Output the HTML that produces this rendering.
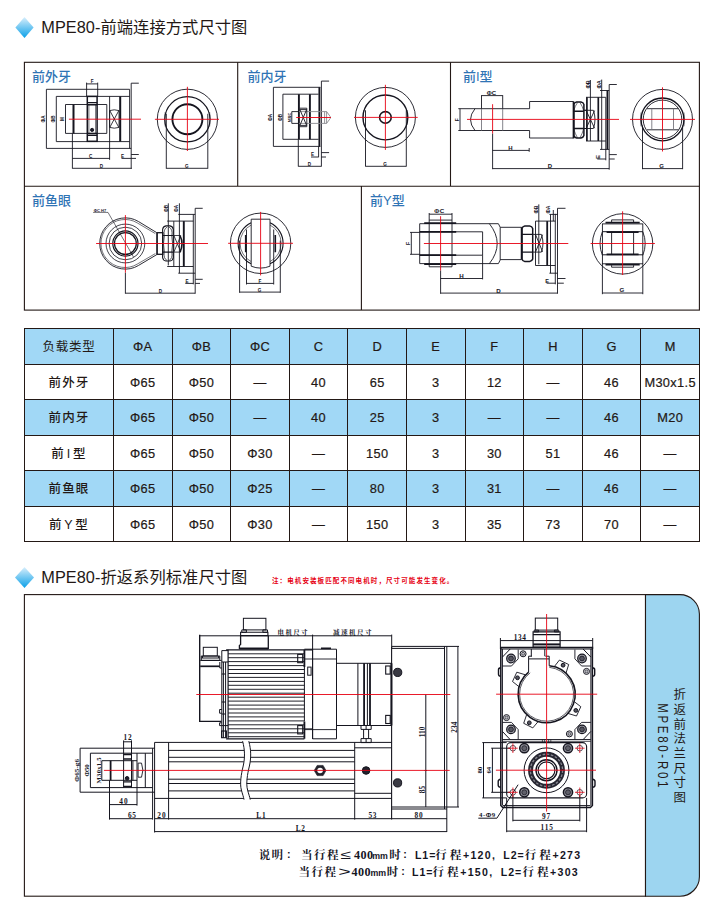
<!DOCTYPE html>
<html lang="zh-CN">
<head>
<meta charset="utf-8">
<title>MPE80 尺寸图</title>
<style>
html,body{margin:0;padding:0;background:#fff;}
body{width:724px;height:902px;position:relative;overflow:hidden;font-family:"Liberation Sans","Noto Sans CJK SC",sans-serif;color:#231815;}
.hd{position:absolute;left:41.3px;font-size:16.3px;line-height:20px;white-space:nowrap;color:#231815;letter-spacing:0.05px;}
.dia{position:absolute;left:15px;width:19px;height:21px;}
.note{position:absolute;left:272px;top:576px;font-size:6.5px;line-height:9px;color:#e60012;white-space:nowrap;font-weight:bold;letter-spacing:1.1px;}
table.t{position:absolute;left:24px;top:328px;border-collapse:collapse;table-layout:fixed;width:676px;font-size:12.8px;}
table.t td{border:1px solid #231815;height:35.5px;padding:2px 0 0 0;letter-spacing:0.35px;-webkit-text-stroke:0.2px #231815;text-align:center;vertical-align:middle;box-sizing:border-box;line-height:14px;}
table.t tr.b td{background:#a1d8f6;}
table.t td.l{letter-spacing:1.2px;font-weight:500;font-size:12.5px;-webkit-text-stroke:0;}
table.t td.s{word-spacing:-3px;}
svg.draw{position:absolute;left:0;top:0;width:724px;height:902px;font-family:"Liberation Sans","Noto Sans CJK SC",sans-serif;}
</style>
</head>
<body>
<!-- section 1 header -->
<svg class="dia" style="top:17px" viewBox="0 0 19 21"><defs><linearGradient id="g1" x1="0" y1="0" x2="0" y2="1"><stop offset="0" stop-color="#d9effc"/><stop offset="1" stop-color="#0aa0e8"/></linearGradient></defs><polygon points="9.5,0 18.6,10.5 9.5,21 0.4,10.5" fill="url(#g1)"/></svg>
<div class="hd" style="top:17px">MPE80-前端连接方式尺寸图</div>

<!-- table -->
<table class="t">
<colgroup><col style="width:89px"><col><col><col><col><col><col><col><col><col><col></colgroup>
<tr class="b"><td class="l" style="font-weight:normal;letter-spacing:0.8px">负载类型</td><td>ΦA</td><td>ΦB</td><td>ΦC</td><td>C</td><td>D</td><td>E</td><td>F</td><td>H</td><td>G</td><td>M</td></tr>
<tr><td class="l">前外牙</td><td>Φ65</td><td>Φ50</td><td>—</td><td>40</td><td>65</td><td>3</td><td>12</td><td>—</td><td>46</td><td>M30x1.5</td></tr>
<tr class="b"><td class="l">前内牙</td><td>Φ65</td><td>Φ50</td><td>—</td><td>40</td><td>25</td><td>3</td><td>—</td><td>—</td><td>46</td><td>M20</td></tr>
<tr><td class="l s">前 I 型</td><td>Φ65</td><td>Φ50</td><td>Φ30</td><td>—</td><td>150</td><td>3</td><td>30</td><td>51</td><td>46</td><td>—</td></tr>
<tr class="b"><td class="l">前鱼眼</td><td>Φ65</td><td>Φ50</td><td>Φ25</td><td>—</td><td>80</td><td>3</td><td>31</td><td>—</td><td>46</td><td>—</td></tr>
<tr><td class="l s">前 Y 型</td><td>Φ65</td><td>Φ50</td><td>Φ30</td><td>—</td><td>150</td><td>3</td><td>35</td><td>73</td><td>70</td><td>—</td></tr>
</table>

<!-- section 2 header -->
<svg class="dia" style="top:567px" viewBox="0 0 19 21"><polygon points="9.5,0 19,10.5 9.5,21 0,10.5" fill="url(#g1)"/></svg>
<div class="hd" style="top:567px">MPE80-折返系列标准尺寸图</div>
<div class="note">注：电机安装板匹配不同电机时，尺寸可能发生变化。</div>

<!-- drawings -->
<svg class="draw" viewBox="0 0 724 902" fill="none" stroke="#231815" stroke-width="1">
<!-- FRAMES -->
<g id="frames" stroke-width="1.1" stroke="#231815">
<rect x="24.4" y="62.3" width="675" height="247.8"/>
<path d="M24.4 186.2H699.4M237.7 62.3V186.2M450.5 62.3V186.2M361.4 186.2V310.1"/>
<rect x="24.4" y="594.6" width="621.1" height="301.6"/>
<path d="M645.5 594.6H679.9a19.5 19.5 0 0 1 19.5 19.5V876.7a19.5 19.5 0 0 1 -19.5 19.5H645.5Z" fill="#9dd5f0"/>
</g>
<!-- LABELS -->
<g id="labels" stroke="none" fill="#2f74b5" font-size="13" font-weight="500">
<text x="32" y="80.8">前外牙</text>
<text x="247.5" y="80.8">前内牙</text>
<text x="463" y="80.8">前I型</text>
<text x="32" y="204.6">前鱼眼</text>
<text x="370" y="204.6">前Y型</text>
</g>
<g id="tab" stroke="none" fill="#231815" font-size="12.5">
<text x="678.2" y="688.2" letter-spacing="2.2" style="writing-mode:vertical-rl">折返前法兰尺寸图</text>
<text transform="translate(658,703.2) rotate(90) scale(0.82,1)" letter-spacing="3.3" font-size="14">MPE80-R01</text>
</g>
<!-- DRAWINGS-TOP -->
<g id="top" stroke="#15151f" stroke-width="0.9" stroke-linecap="butt">
<!-- ===== D1 前外牙 side ===== -->
<g id="d1">
<path d="M46.4 89.3V148.4M46.4 89.3H129.6M46.4 148.4H131.2"/>
<path d="M56.3 96.4V141.6M56.3 96.4H129.6M56.3 141.6H129.6"/>
<path d="M65.5 104.5V133.4M65.5 104.5H106.8M65.5 133.4H106.8M106.8 104.5V133.4"/>
<path d="M72.4 133.4V168.6M109.6 96.4V159.8M129.6 89.3V148.4M131.2 83.2V168.6M131.2 83.2H138.8M131.2 154.5H138.8"/>
<path d="M73.5 104.5V133.4M120.2 96.4V141.6" stroke-width="2"/>
<path d="M86.6 82.6V96.4M97.7 82.6V96.4M86.6 83.9H97.7"/>
<rect x="87.3" y="96.4" width="9.8" height="44.9" stroke-width="1.5"/>
<path d="M87.3 102.6H97.1M87.3 104.8H97.1M87.3 133.4H97.1M87.3 135.3H97.1" stroke-width="1.4"/>
<path d="M88.9 104.8V133.4M95.6 104.8V133.4" stroke-width="0.6"/>
<circle cx="92.1" cy="129.9" r="1.6" fill="#1d1d2c"/>
<path d="M109.6 110.6Q114.3 109 119 110.6V127.4Q114.3 129 109.6 127.4ZM109.9 110.8L118.7 127.2M118.7 110.8L109.9 127.2" stroke-width="0.85"/>
<path d="M72.4 158.4H109.6M72.4 168.3H131.9M121.5 158.4H131.2M131.2 158.4H136"/>
</g>
<!-- D1 front -->
<g id="d1f">
<circle cx="187.4" cy="119.3" r="30.1"/>
<circle cx="187.4" cy="119.3" r="22.6" stroke-width="1.2"/>
<circle cx="187.4" cy="119.3" r="15" stroke-width="1.9"/>
<path d="M166.3 113.8V168.7M207.8 113.8V168.7M166.3 168.3H207.8"/>
<path d="M165.2 112Q164 119.3 165.2 126.6M209.6 112Q210.8 119.3 209.6 126.6" stroke-width="0.5"/>
</g>
<!-- ===== D2 前内牙 side ===== -->
<g id="d2">
<path d="M273.4 87.3V146.4M273.4 87.3H320.4M273.4 146.4H320.4"/>
<path d="M282.9 94.2V139.3M282.9 94.2H318.6M282.9 139.3H318.6"/>
<path d="M298.9 94.2V139.3M309.9 94.2V139.3M319.4 87.3V146.4" stroke-width="1.9"/>
<path d="M298.3 139.3V166.5M321.4 81.1V166.5M321.4 81.1H329.1M321.4 152.6H329.1M318.6 146.4V157.2"/>
<g stroke="#8a8a90"><path d="M299 111.6H326.6L330.2 116.5V118.5L326.6 123.4H299M324.6 111.6V123.4M326.6 111.6V123.4"/></g>
<path d="M291.8 111.6V123.4M291.8 111.6H299M291.8 123.4H299"/>
<path d="M299.6 108.2H306.8V126.7H299.6M300 109.8L306.5 125.2M306.5 109.8L300 125.2M299.6 109.6H306.8M299.6 125.4H306.8" stroke-width="0.9"/>
<path d="M298.3 166.3H321.4M311 157H318.6M321.4 157H326"/>
</g>
<g id="d2f">
<circle cx="385.4" cy="117.4" r="30"/>
<circle cx="385.4" cy="117.4" r="22.4" stroke-width="1.3"/>
<circle cx="385.4" cy="117.4" r="5.8" stroke-width="1.6"/>
<path d="M365.5 110.3V166.5M406.3 110.3V166.5M365.5 166.3H406.3"/>
<path d="M363.6 110Q362.4 117.4 363.6 124.8M407.2 110Q408.4 117.4 407.2 124.8" stroke-width="0.5"/>
</g>
<!-- ===== D3 前I型 ===== -->
<g id="d3">
<path d="M460 108.7V130.5M458.3 108.7H529.6V101.5H573.5M458.3 130.5H529.6V138H573.5"/>
<path d="M475 108.7Q466 119.6 475 130.5"/>
<path d="M481.5 108.7V130.5M502.7 108.7V130.5" stroke="#77777f"/>
<path d="M481.5 95.2V108.7M502.7 95.2V108.7M481.5 95.6H502.7"/>
<path d="M492.6 133.5V169.2M492.6 150.4H529.2M529.2 148V151.8M492.6 168.6H609.2"/>
<!-- hex nut -->
<path d="M573.5 101.4V138.4" stroke-width="1.7"/>
<path d="M573.9 104.4Q574.4 102.3 576.6 102H581Q583.3 102.3 583.9 104.4V135.5Q583.3 137.6 581 137.9H576.6Q574.4 137.6 573.9 135.5Z" stroke-width="1.5"/>
<path d="M573.5 111.3H583.9M573.5 128.5H583.9" stroke-width="1.4"/>
<path d="M573.5 111.1Q575 106 577.5 102.6M583.8 111.1Q582.4 106 580 102.6M573.5 128.3Q575 133.5 577.5 137.9M583.8 128.3Q582.4 133.5 580 137.9" stroke-width="0.6"/>
<path d="M583.9 110.3H586M583.9 128.5H586"/>
<path d="M586 97.3H605.8M586 141H605.8M605.8 97.3V160.3M590.4 80V141"/>
<path d="M586.9 97.3V141M598.3 97.3V141" stroke-width="1.7"/>
<path d="M584.6 110.3H593.4Q596.6 119.4 593.4 128.5H584.6M586.2 110.6L594.6 128.2M594.6 110.6L586.2 128.2" stroke-width="0.9"/>
<path d="M601.7 79.6V149.4M600 90.5H609.2M600 149.4H609.2"/>
<path d="M607.4 90.5V149.4" stroke-width="1.8"/>
<path d="M609.2 84.5V169.7M609.2 84.5H616.8M609.2 154.6H616.8M597.3 159H605.8M609.2 159H614.7"/>
</g>
<g id="d3f">
<circle cx="662.5" cy="119.4" r="30"/>
<circle cx="662.5" cy="119.4" r="21.4" stroke-width="1.3"/>
<circle cx="662.5" cy="119.4" r="19.3"/>
<path d="M647 108.7H678.5M647 129.8H678.5"/>
<path d="M651.8 108.7V129.8M673.5 108.7V129.8" stroke="#77777f"/>
<path d="M642.5 125.5V169.2M682.6 125.5V169.2M642.5 168.6H682.6"/>
<path d="M641 112.5Q640 119.4 641 126.3M684 112.5Q685 119.4 684 126.3" stroke-width="0.5"/>
</g>
<!-- ===== D4 前鱼眼 ===== -->
<g id="d4">
<!-- eye head outline: circle + taper to shank -->
<path d="M138.6 221.6A25.6 25.6 0 1 0 138.6 265.4L156.8 254.6V232.7Z"/>
<path d="M137.6 223.1A24 24 0 1 0 137.6 263.9L155.3 253.6" stroke-width="0.6"/>
<path d="M137.6 223.1L155.3 233.6" stroke-width="0.6"/>
<circle cx="125.4" cy="243.5" r="19.4" stroke-width="0.8"/>
<circle cx="125.4" cy="243.5" r="16.3" stroke-width="0.8"/>
<circle cx="125.4" cy="243.5" r="12.6" stroke-width="1.2"/>
<circle cx="125.4" cy="243.5" r="10.9" stroke-width="1.2"/>
<rect x="157.2" y="232.7" width="5.6" height="21.6" stroke-width="1.3"/>
<!-- nut -->
<path d="M162.6 229.5Q163 226.4 166 225.9H170Q172.9 226.4 173.3 229.5V257.5Q172.9 260.6 170 261H166Q163 260.6 162.6 257.5Z" stroke-width="1.1"/>
<path d="M162.8 235.5H173.3M162.8 252.1H173.3" stroke-width="1.1"/>
<path d="M164.4 235.5Q162.6 243.8 164.4 252.1M171.7 235.5Q173.5 243.8 171.7 252.1M164.2 235.3Q163.4 229 167 227.2M171.9 235.3Q172.7 229 169.1 227.2M164.2 252.3Q163.4 258.6 167 260.4M171.9 252.3Q172.7 258.6 169.1 260.4" stroke-width="0.7"/>
<path d="M173.8 221.1V266.5"/>
<path d="M173.8 235.5H180.6M173.8 252.1H180.6M174 235.8L180.8 251.8M180.8 235.8L174 251.8" stroke-width="0.8"/>
<path d="M180 235.5Q184 243.8 180 252.1" stroke-width="1.6"/>
<path d="M168.3 203.3V265.4M167.2 221.1H193.3M167.2 266.5H193.3"/>
<path d="M183.8 221.1V266.5" stroke-width="1.9"/>
<path d="M179.4 203.3V273.2M178.3 214.4H195.2M178.3 273.2H195.2M193.3 214.4V284.3"/>
<path d="M195.2 208.3V293.7M195.2 208.3H202.7M195.2 279.3H202.7M185.3 283.4H193.3M195.2 283.4H200"/>
<path d="M125.4 272.6V293.7M125.4 293.2H195.2"/>
<path d="M93.1 212.4H108L133.5 257" stroke-width="0.6"/>
</g>
<g id="d4f">
<circle cx="260.6" cy="243.3" r="30.2"/>
<path d="M251.2 222.8A22.6 22.6 0 0 0 251.2 263.8M270 222.8A22.6 22.6 0 0 1 270 263.8" stroke-width="1.1"/>
<path d="M251.2 225A20.6 20.6 0 0 0 251.2 261.6M270 225A20.6 20.6 0 0 1 270 261.6" stroke-width="0.6"/>
<path d="M251.2 219.2H270V266.2Q260.6 270 251.2 266.2Z" fill="#fff"/>
<path d="M245.7 235V252.3M275.3 235V252.3" stroke-width="1.6"/>
<path d="M246.5 229.5V284.5M273.7 229.5V284.5M246.5 283.4H273.7"/>
<path d="M239.6 240.6V292.8M280.3 240.6V292.8M239.6 292.1H280.3"/>
</g>
<!-- ===== D5 前Y型 ===== -->
<g id="d5">
<path d="M411.3 232.4V254.3M410 232.4H419.7M410 254.3H419.7"/>
<path d="M419.7 223.7H498.4L500.2 227.3V260L498.4 263.6H419.7Z"/>
<path d="M419.7 231.8H482.6V255.2H419.7"/>
<path d="M489.4 223.7Q505 243.6 489.4 263.6"/>
<path d="M424.2 223.2H456.2M424.2 264.1H456.2M419.7 231.8H456.2M419.7 255.2H456.2" stroke-width="1.8"/>
<path d="M429.2 213V266.8M452 213V266.8M429.2 220.1H452M429.2 266.8H452M429.2 214.2H452"/>
<path d="M500.2 227.3H521.6M500.2 259.6H521.6"/>
<!-- nut -->
<path d="M521.6 227.2V259.4" stroke-width="1.7"/>
<path d="M522 228.6Q522.6 226.4 524.8 226.1H529.6Q532 226.4 532.7 228.6V259.1Q532 261.3 529.6 261.6H524.8Q522.6 261.3 522 259.1Z" stroke-width="1.5"/>
<path d="M521.6 234.4H532.7M521.6 252.1H532.7" stroke-width="1.4"/>
<path d="M532.7 234.4H533.9M532.7 252.1H533.9"/>
<path d="M535.5 221.1H555.3M535.5 265.5H555.3M535.5 221.1V265.5M555.3 213.9V284.3M538.8 204.4V264.3"/>
<path d="M547.2 221.1V265.5" stroke-width="1.8"/>
<path d="M533.9 234.4H541.4Q544.6 243.3 541.4 252.1H533.9M535.6 234.7L542.6 251.8M542.6 234.7L535.6 251.8" stroke-width="0.9"/>
<path d="M550.5 214.4V273.2M549.4 214.4H557.5M549.4 273.2H557.5M553.3 210V221.1"/>
<path d="M557.5 208.3V293.7M557.5 208.3H565.5M557.5 278.5H565.5M546.6 283.2H555.3M557.5 283.2H563.8"/>
<path d="M440.6 270.4V293.8M482.6 255.2V279.4M440.6 278.5H482.6M440.6 293.1H557.5"/>
</g>
<g id="d5f">
<circle cx="622.6" cy="243.9" r="30.2"/>
<rect x="602.4" y="223.9" width="40.4" height="39.9"/>
<path d="M602.4 231.7H642.8M602.4 254.8H642.8" stroke-width="1"/>
<path d="M606.6 232.1H638.6M606.6 254.4H638.6" stroke-width="1.9"/>
<path d="M605.5 222.6H639.7M605.5 264.7H639.7" stroke-width="1.7"/>
<path d="M611.6 219.9H633.6M611.6 267.2H633.6M611.6 219.9V222M633.6 219.9V222M611.6 265.2V267.2M633.6 265.2V267.2"/>
<path d="M611.6 231.7V254.8M633.6 231.7V254.8"/>
<path d="M602.4 231.7Q597.6 243.5 602.4 255.3M642.8 231.7Q647.6 243.5 642.8 255.3" stroke-width="0.9"/>
<path d="M602.4 263.8V294.2M642.8 263.8V294.2M602.4 293H642.8"/>
</g>
</g>
<!-- red centre lines top -->
<g id="redtop" stroke="#e60012" stroke-width="0.9">
<path d="M68.9 119.2H141M154.9 119.3H219M187.4 86.8V151"/>
<path d="M296.2 117.5H331M354 117.4H417.7M385.4 84.8V149.9"/>
<path d="M467 119.4H619M492.6 104.2V133.5M630 119.4H695M662.5 87.3V151.5"/>
<path d="M96.1 243.5H208M125.4 215.1V272.6M228.1 243.3H293M260.6 211.9V275.4"/>
<path d="M423.9 243.5H568.3M440.6 216.2V270.4M590.6 243.5H654.9M622.6 211.3V275"/>
</g>
<!-- tiny labels top -->
<g id="lbltop" stroke="none" fill="#15151f" font-size="4.6" font-weight="bold" text-anchor="middle">
<text x="92.1" y="83.2">F</text><text x="90.6" y="157.6">C</text><text x="101.5" y="167.6">D</text><text x="122.5" y="157.8">E</text><text x="186.8" y="167.5">G</text>
<text transform="translate(45,119) rotate(-90)">ΦA</text><text transform="translate(55,119) rotate(-90)">ΦB</text><text transform="translate(64.2,119) rotate(-90)">M</text>
<text transform="translate(272,117.5) rotate(-90)">ΦA</text><text transform="translate(281.6,117.5) rotate(-90)">ΦB</text><text transform="translate(290.8,117.5) rotate(-90)" font-size="3.8">M深C</text>
<text x="312.5" y="156.4">E</text><text x="309.4" y="165.6">D</text><text x="385" y="165.6">G</text>
<g font-size="6">
<text x="491.5" y="95">ΦC</text><text transform="translate(459,119.6) rotate(-90)" font-size="5">F</text><text x="510.5" y="149.8">H</text><text x="550" y="168.2">D</text>
<text transform="translate(589.6,84.4) rotate(-90)" font-size="5.4">ΦB</text><text transform="translate(601,84.4) rotate(-90)" font-size="5.4">ΦA</text><text transform="translate(600,157) rotate(-90)">E</text><text x="661.5" y="168">G</text>
</g>
<text x="100" y="211.6" font-size="4">ΦC H7</text>
<text transform="translate(167.6,208.4) rotate(-90)">ΦB</text><text transform="translate(178.2,208.4) rotate(-90)">ΦA</text>
<text x="187" y="282.8">E</text><text x="160.4" y="292.5">D</text><text x="259.9" y="282.8">F</text><text x="259.5" y="291.7">G</text>
<g font-size="6.2">
<text x="439.5" y="213.4" letter-spacing="0.5">ΦC</text><text transform="translate(410,243.5) rotate(-90)" font-size="5.2">F</text><text x="461.6" y="277.9">H</text><text x="498.4" y="292.7">D</text>
<text transform="translate(538.2,209.4) rotate(-90)" font-size="5.2">ΦB</text><text transform="translate(549.6,209.4) rotate(-90)" font-size="5.2">ΦA</text><text x="547.2" y="283.4" font-size="5.6">E</text><text x="622" y="292.3">G</text>
</g>
</g>
<!-- /DRAWINGS-TOP -->
<!-- DRAWINGS-BOTTOM -->
<g id="bot" stroke="#15151f" stroke-width="1">
<!-- ===== motor ===== -->
<g id="motor">
<path d="M199.1 635.8H391.7M312.6 634.6V739M391.7 634.6V648"/>
<path d="M199.7 634.8V721.4H221.5" stroke-width="1.4"/>
<!-- big connector -->
<rect x="243.4" y="618.3" width="22.5" height="11.6"/>
<path d="M241.8 629.9H246.4V632.3H241.8ZM262.9 629.9H267.5V632.3H262.9Z"/>
<path d="M240.6 632.3H267.9V635.6H240.6Z" stroke-width="1.1"/>
<path d="M240.6 635.6V644.5L239.4 645.5V648.4H268.3V635.6" stroke-width="1.3"/>
<path d="M239.4 648.6H268.3" stroke-width="1.8"/>
<!-- encoder connector -->
<rect x="203.3" y="647.3" width="14" height="8.7"/>
<path d="M201.3 656H219.8V660.4H201.3ZM201.3 658H219.8M202.5 656V658M218.6 656V658"/>
<path d="M200.2 666.3H219.8" stroke-width="1.7"/>
<path d="M200.2 660.4H221.5"/>
<!-- end bell -->
<path d="M221.8 650.6H228.1M221.8 650.6V737.8M223.4 662V737.8M225.6 662V737.8M221.8 662H228.1M219.8 662V668H221.8M221.8 674H225.6"/>
<path d="M219.6 709.5H221.8M219.6 713.2H221.8M219.6 709.5V713.2M219.6 722.8H221.8M219.6 725.6H221.8M219.6 722.8V725.6M221.8 702H225.6M221.8 714H225.6M221.8 725.6H228.1"/>
<rect x="221.6" y="731" width="4.8" height="6.7" stroke-width="1.1"/>
<!-- body + fins -->
<path d="M228.1 649.8V738.8" stroke-width="1.2"/>
<path d="M226.1 649.8H312.6M226.1 738.8H304.4" stroke-width="1.3"/>
<path d="M228.1 653.8H304.4M228.1 657.7H304.4M228.1 661.6H304.4M228.1 665.6H304.4M228.1 669.5H304.4M228.1 673.5H304.4M228.1 677.4H304.4M228.1 681.4H304.4M228.1 685.3H304.4M228.1 689.3H304.4M228.1 693.2H304.4M228.1 697.2H304.4M228.1 701.1H304.4M228.1 705.1H304.4M228.1 709.0H304.4M228.1 713.0H304.4M228.1 716.9H304.4M228.1 720.9H304.4M228.1 724.8H304.4M228.1 728.8H304.4M228.1 732.8H304.4M228.1 736.7H304.4" stroke-width="0.95"/>
<path d="M304.4 649.8V667M304.4 721.4V738.8" stroke-width="1.8"/>
<path d="M304.4 667V721.4" stroke-width="1"/>
<rect x="297.7" y="654.4" width="5" height="8.3" stroke-width="1.1"/>
<rect x="297.7" y="725.6" width="5" height="8.3" stroke-width="1.1"/>
<path d="M304.4 728.9H312.6"/>
</g>
<!-- ===== reducer ===== -->
<g id="reducer">
<path d="M304.4 649.2H336.5V738.8H312.6M312.6 649.2V738.8"/>
<path d="M321 648.3H331" stroke-width="1.6"/>
<rect x="307.7" y="667.1" width="3.4" height="8.1" stroke-width="1"/>
<path d="M336.5 663.3H391.7M336.5 725.5H391.7M357.9 663.3V725.5M367.4 663.3V725.5"/>
<path d="M364.1 663.3V725.5M370 663.3V725.5" stroke-width="1.8"/>
<rect x="385.7" y="666" width="4.5" height="8.1" stroke-width="1.1"/>
<rect x="385.7" y="715.4" width="4.5" height="8.1" stroke-width="1.1"/>
<path d="M361 725.5H371.2V729.4H361ZM363.6 729.4V738.6M368.6 729.4V738.6M361 738.6H371.2V742.6H361ZM366.1 725.5V729.4M366.1 738.6V742.6"/>
<path d="M304.4 659H336.5M304.4 729.6H336.5" stroke-width="0.9"/>
</g>
<!-- ===== mount plate side ===== -->
<g id="plate">
<path d="M391.6 647V819.6" stroke-width="1.1"/>
<path d="M391.4 663.3V725.5" stroke-width="2"/>
<path d="M391.6 646.4H459M391.6 648.4H444.5M444.5 646.4V809M446.8 646.4V832M391.6 807H459M391.6 809H446.8"/>
<circle cx="397.7" cy="672.4" r="4.1" fill="#3a3a44" stroke-width="1"/>
<circle cx="397.6" cy="782.9" r="4.1" fill="#3a3a44" stroke-width="1"/>
<path d="M425.8 694.5V807M424.6 770.5H427M457.9 646.4V807"/>
</g>
<!-- ===== actuator body ===== -->
<g id="act">
<path d="M154.6 742.4H242.8M249.2 742.4H391.6M154.6 798.4H243.8M250 798.4H391.6"/>
<path d="M154.6 742.4V832.5M168.6 742.4V819.6M354.7 742.4V819.6"/>
<path d="M168.6 750.4H244.4M168.6 757.3H244.4M168.6 761.8H243.8M168.6 779.2H240.6M168.6 783.5H240.4M168.6 790.9H241.6"/>
<path d="M250.6 750.4H354.7M250.6 757.3H354.7M250 761.8H354.7M246.8 779.2H354.7M246.6 783.5H354.7M247.8 790.9H354.7"/>
<path d="M354.7 747.8H391.6M354.7 793.3H391.6"/>
<path d="M242.6 741.2C245 750 245 758 243.2 766C241.2 774 239.6 784 241.4 790C242.4 794 243.6 797 244 799.6M248.8 741.2C251.2 750 251.2 758 249.4 766C247.4 774 245.8 784 247.6 790C248.6 794 249.8 797 250.2 799.6" stroke-width="1"/>
<polygon points="326.0,770.5 323.1,775.6 317.2,775.6 314.2,770.5 317.2,765.4 323.1,765.4" fill="#22222d" stroke-width="0.6"/>
<circle cx="320.1" cy="770.5" r="2.8" fill="#fff" stroke="none"/>
<circle cx="366.1" cy="770.5" r="3.8" fill="#22222d"/>
</g>
<!-- ===== rod end ===== -->
<g id="rod">
<path d="M80.1 748.2V792.2M80.1 748.2H154.6M80.1 792.2H154.6"/>
<path d="M90.4 753.2V787.6M90.4 753.2H152.6M90.4 787.6H152.6"/>
<path d="M101.8 760.7V780.3M101.8 760.7H137M101.8 780.3H137"/>
<path d="M110.6 760.7V780.3" stroke-width="1.8"/>
<path d="M109.5 780.3V819.6M137 753.2V805.6M132.9 760.7V780.3M145.3 753.2V787.6M152.6 748.2V819.6"/>
<path d="M123.6 740.4V787.6M131.5 740.4V787.6M123.6 741.8H131.5"/>
<path d="M123.6 754.5H131.5M123.6 759H131.5M123.6 781.8H131.5M123.6 786.3H131.5" stroke-width="1.3"/>
<circle cx="127.1" cy="778.3" r="1.8" fill="#1d1d2c"/>
<path d="M138.1 763.1H141.5Q144.3 770.2 141.5 777.2H138.1Z" stroke-width="0.9"/>
<path d="M109.5 804.6H137M109.5 818.7H152.6M154.6 818.7H354.7M354.7 818.7H391.6M391.6 818.7H447M154.6 831.6H447"/>
</g>
<!-- ===== front view ===== -->
<g id="front">
<path d="M500.4 640.6H592.7M500.4 638V649M592.7 638V649"/>
<!-- plate -->
<path d="M500.8 647.6H592.4V805.4L590.4 807.5H502.8L500.8 805.4Z" stroke-width="1.5"/>
<path d="M502.4 649V805.2M590.9 649V805.2M500.8 649H592.4M502.6 805.6H590.6"/>
<!-- connector -->
<rect x="535.3" y="618.1" width="22.4" height="12"/>
<path d="M534.2 630.1H538.6V631.9H534.2ZM554.4 630.1H558.8V631.9H554.4Z"/>
<path d="M533.1 631.9H560.1V647.2H533.1ZM533.1 634.6H560.1" stroke-width="1.2"/>
<path d="M533.1 644.4H560.1" stroke-width="2"/>
<path d="M531.3 649V656.2M544.8 649V656.2M528.6 656.2H532M545.4 656.2H549.2M528.6 656.2V658.9M549.2 656.2V658.9M528.6 658.9H549.2"/>
<!-- motor flange -->
<path d="M510.2 649L502.4 657.1M583.1 649L590.9 657.1M502.4 731.4L510.2 739.6M590.9 731.4L583.1 739.6M502.4 739.6H590.9"/>
<path d="M518.2 649.6V658.8L511.5 666H502.4M574.9 649.6V658.8L581.6 666H590.9M502.4 722.4H511.5L518.2 729.6V739.4M590.9 722.4H581.6L574.9 729.6V739.4" stroke-width="0.9"/>
<g stroke-width="1.2" fill="#9a9aa2">
<circle cx="511" cy="658.5" r="4.3"/><circle cx="582" cy="658.5" r="4.3"/><circle cx="511" cy="729.4" r="4.3"/><circle cx="582" cy="729.4" r="4.3"/>
</g>
<g stroke-width="0.8" fill="#55555f">
<circle cx="511" cy="658.5" r="2.4"/><circle cx="582" cy="658.5" r="2.4"/><circle cx="511" cy="729.4" r="2.4"/><circle cx="582" cy="729.4" r="2.4"/>
</g>
<g stroke-width="1" fill="#e4e4e8">
<circle cx="523.1" cy="653.8" r="3"/><circle cx="586.5" cy="671.4" r="3"/><circle cx="506.5" cy="717.6" r="3"/><circle cx="569.4" cy="733.9" r="3"/>
</g>
<g stroke-width="0.6" fill="#b8b8c0">
<circle cx="523.1" cy="653.8" r="1.5"/><circle cx="586.5" cy="671.4" r="1.5"/><circle cx="506.5" cy="717.6" r="1.5"/><circle cx="569.4" cy="733.9" r="1.5"/>
</g>
<!-- housing with lugs -->
<path d="M528.6 658.9V672.1M549.2 658.9V665.8" stroke-width="1"/>
<path d="M554.3 666.6L559.4 660.1L568.7 664.5L566.0 673.1M518.9 686.6L512.5 681.5L516.8 672.2L525.4 674.8M574.3 701.7L580.8 706.7L576.5 716.0L567.9 713.4M538.1 721.6L532.8 727.9L523.7 723.3L526.6 714.8" stroke-width="0.9" fill="#fff"/>
<circle cx="563.1" cy="665.2" r="1.9" fill="#55555f"/><circle cx="517.5" cy="677.8" r="1.9" fill="#55555f"/><circle cx="575.8" cy="710.4" r="1.9" fill="#55555f"/><circle cx="529.3" cy="722.8" r="1.9" fill="#55555f"/>
<path d="M528.6 672.1A28.5 28.5 0 1 0 549.3 665.8" stroke-width="1.6"/>
<path d="M530.2 672.75A27 27 0 1 0 549.3 667.34" stroke-width="0.7"/>
<!-- side bumps -->
<path d="M500.8 667.8Q498.4 668 498.5 670V674Q498.4 676 500.8 676.2M592.4 667.8Q594.8 668 594.7 670V674Q594.8 676 592.4 676.2M500.8 779.3Q498.2 779.6 498.2 781.4V785.2Q498.2 787 500.8 787.2M592.4 779.3Q595 779.6 595 781.4V785.2Q595 787 592.4 787.2" stroke-width="1.4"/>
<!-- between -->
<path d="M502.4 741.4H590.9M542.4 739.6V742M544.6 739.6V742M548.6 739.6V742M550.8 739.6V742" stroke-width="0.7"/>
<!-- flange 115 -->
<rect x="506.7" y="742.6" width="79.9" height="55.3" rx="4" ry="4" stroke-width="1.1"/>
<g stroke-width="0.7"><circle cx="512.9" cy="748.2" r="2.8"/><circle cx="579.8" cy="748.2" r="2.8"/><circle cx="512.9" cy="792.3" r="2.8"/><circle cx="579.8" cy="792.3" r="2.8"/></g>
<g stroke-width="1.5" fill="#8d8d96"><circle cx="524.3" cy="748.2" r="4.6"/><circle cx="568" cy="748.2" r="4.6"/><circle cx="524.3" cy="792.3" r="4.6"/><circle cx="568" cy="792.3" r="4.6"/></g>
<g stroke-width="0.7" fill="#60606a"><circle cx="524.3" cy="748.2" r="2.5"/><circle cx="568" cy="748.2" r="2.5"/><circle cx="524.3" cy="792.3" r="2.5"/><circle cx="568" cy="792.3" r="2.5"/></g>
<circle cx="546.5" cy="770.3" r="22.4" stroke-width="1"/>
<circle cx="546.5" cy="770.3" r="16" stroke-width="4.9" stroke="#262631"/>
<circle cx="546.5" cy="770.3" r="16.1" stroke-width="1.3" stroke="#85858f" stroke-dasharray="2.6 1.6"/>
<circle cx="546.5" cy="770.3" r="10.5" stroke-width="1.4"/>
<circle cx="546.5" cy="770.3" r="8.4" stroke-width="1.1"/>
<!-- dims -->
<path d="M483.5 742.6V797.9M482.3 742.6H506.7M482.3 797.9H506.7M492.4 748.2V792.3M491.2 748.2H510M491.2 792.3H510"/>
<path d="M512.9 795.3V821.4M579.8 795.3V821.4M512.9 820.3H579.8M506.7 797.9V832.2M586.6 797.9V832.2M506.7 831.1H586.6"/>
<path d="M478.3 818.2H496.9L518.1 784.7"/>
</g>
</g>
<!-- red centre lines bottom -->
<g id="redbot" stroke="#e60012" stroke-width="0.9">
<path d="M196.3 694.5H450.3M103.9 770.4H449.7"/>
<path d="M546.6 614V811.6M496.1 694.2H597.2M495.9 770.2H596"/>
<path d="M512.9 743.4V753M508.1 748.2H517.7M579.8 743.4V753M575 748.2H584.6M512.9 787.5V797.1M508.1 792.3H517.7M579.8 787.5V797.1M575 792.3H584.6" stroke-width="0.8"/>
</g>
<!-- labels bottom -->
<g id="lblbot" stroke="none" fill="#15151f" font-size="7.3" font-weight="bold" text-anchor="middle" style="font-family:'Liberation Serif','Noto Serif CJK SC',serif">
<text x="293.2" y="635" font-size="6.6" letter-spacing="1.2">电机尺寸</text>
<text x="353" y="634.6" font-size="6.6" letter-spacing="1.4">减速机尺寸</text>
<text x="127.9" y="740.4" letter-spacing="0.8">12</text>
<text x="124" y="804" letter-spacing="1">40</text><text x="132.2" y="817.9" letter-spacing="0.6">65</text><text x="161.9" y="817.9" letter-spacing="1">20</text>
<text x="261.4" y="817.6" letter-spacing="0.8">L1</text><text x="300.7" y="830.6" letter-spacing="0.8">L2</text>
<text x="372.8" y="817.7" letter-spacing="0.6">53</text><text x="418.9" y="817.7" letter-spacing="0.8">80</text>
<text transform="translate(78.6,770.4) rotate(-90)" font-size="7" textLength="22.8">Φ65-g6</text>
<text transform="translate(89.2,770.4) rotate(-90)" font-size="7" textLength="12.4">Φ50</text>
<text transform="translate(100.6,770.4) rotate(-90)" font-size="6.6" textLength="26">M30x1.5</text>
<text transform="translate(424.7,732) rotate(-90)">110</text>
<text transform="translate(424.7,789.6) rotate(-90)">85</text>
<text transform="translate(457.2,727.2) rotate(-90)">234</text>
<text x="520.2" y="639.6" letter-spacing="0.6">134</text>
<text transform="translate(482.4,770.2) rotate(-90)" font-size="6.8">80</text>
<text transform="translate(491.4,770.2) rotate(-90)" font-size="6.8">64</text>
<text x="546.6" y="819.4" letter-spacing="1">97</text><text x="547.2" y="830.2" letter-spacing="1">115</text>
<text x="487.4" y="817.3" font-size="6.8" letter-spacing="0.5">4-Φ9</text>
</g>
<g id="notes" stroke="none" fill="#15151f" font-size="10.6" font-weight="bold">
<style>#notes .k{font-family:"Liberation Serif","Noto Serif CJK SC",serif;font-size:11.5px;}</style>
<text x="258.7" y="858.7" class="k" letter-spacing="1.4">说明</text>
<text x="287" y="858.1">:</text>
<text x="301" y="858.7" class="k" letter-spacing="1.5">当行程</text>
<text transform="translate(340.8,859.1) scale(1.55,1)" font-size="12.5" font-weight="normal">≤</text>
<text x="354" y="858.8" font-size="12.2" letter-spacing="0.4" style="font-family:'Liberation Serif',serif">400</text>
<text x="372.2" y="858.7" font-size="8.8">mm</text>
<text x="389.3" y="858.7" class="k">时</text>
<text x="403.2" y="858.1">:</text>
<text x="414.9" y="858.7" letter-spacing="1">L1=</text>
<text x="435.3" y="858.7" class="k" letter-spacing="3">行程</text>
<text x="462.9" y="858.7" letter-spacing="1.3">+120,</text>
<text x="503.2" y="858.7" letter-spacing="1">L2=</text>
<text x="524.8" y="858.7" class="k" letter-spacing="3">行程</text>
<text x="552.4" y="858.7" letter-spacing="1.3">+273</text>
<text x="298.5" y="875.8" class="k" letter-spacing="1.5">当行程</text>
<text transform="translate(338.3,876.2) scale(1.7,1)" font-size="12.5" font-weight="normal">&gt;</text>
<text x="351.5" y="875.9" font-size="12.2" letter-spacing="0.4" style="font-family:'Liberation Serif',serif">400</text>
<text x="370.4" y="875.8" font-size="8.8">mm</text>
<text x="386.8" y="875.8" class="k">时</text>
<text x="401.2" y="875.2">:</text>
<text x="412" y="875.8" letter-spacing="1">L1=</text>
<text x="432.6" y="875.8" class="k" letter-spacing="3">行程</text>
<text x="460.2" y="875.8" letter-spacing="1.3">+150,</text>
<text x="500.7" y="875.8" letter-spacing="1">L2=</text>
<text x="522.4" y="875.8" class="k" letter-spacing="3">行程</text>
<text x="550" y="875.8" letter-spacing="1.3">+303</text>
</g>
<!-- /DRAWINGS-BOTTOM -->
</svg>
</body>
</html>
